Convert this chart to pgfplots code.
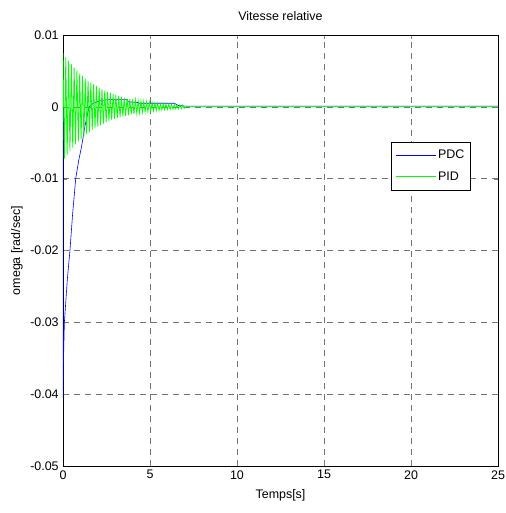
\documentclass[border=0pt]{standalone}
\usepackage{fontspec}
\setmainfont{Liberation Sans}
\usepackage{pgfplots}
\pgfplotsset{compat=1.18}
\usepackage{pgfplotstable}
\definecolor{mblue}{rgb}{0,0,1}
\definecolor{mgreen}{rgb}{0,1,0}
\pgfplotstableread{
t v
0 0
0 -0.0405
0.02 -0.0362
0.05 -0.0330
0.08 -0.0300
0.15 -0.0275
0.25 -0.0240
0.40 -0.0200
0.55 -0.0150
0.73 -0.0100
0.90 -0.0075
1.07 -0.0055
1.26 -0.0027
1.50 0.0000
1.75 0.0005
2.00 0.00074
2.30 0.00092
2.60 0.0010
3.70 0.0010
3.75 0.0007
4.30 0.0006
4.40 0.0005
6.40 0.0005
6.60 0.0002
7.00 0.0001
25 0.0001
}\pdc
\pgfplotstableread{
t v
0 0
0 0.00750
0.08 -0.00721
0.16 0.00692
0.24 -0.00665
0.32 0.00639
0.40 -0.00614
0.48 0.00590
0.56 -0.00567
0.64 0.00545
0.72 -0.00523
0.80 0.00503
0.88 -0.00483
0.96 0.00464
1.04 -0.00446
1.12 0.00428
1.20 -0.00412
1.28 0.00395
1.36 -0.00380
1.44 0.00365
1.52 -0.00351
1.60 0.00337
1.68 -0.00324
1.76 0.00311
1.84 -0.00299
1.92 0.00287
2.00 -0.00276
2.08 0.00265
2.16 -0.00255
2.24 0.00245
2.32 -0.00235
2.40 0.00226
2.48 -0.00217
2.56 0.00209
2.64 -0.00200
2.72 0.00193
2.80 -0.00185
2.88 0.00178
2.96 -0.00171
3.04 0.00164
3.12 -0.00158
3.20 0.00151
3.28 -0.00146
3.36 0.00140
3.44 -0.00134
3.52 0.00129
3.60 -0.00124
3.68 0.00119
3.76 -0.00114
3.84 0.00110
3.92 -0.00106
4.00 0.00102
4.08 -0.00097
4.16 0.00094
4.24 -0.00090
4.32 0.00086
4.40 -0.00083
4.48 0.00080
4.56 -0.00077
4.64 0.00074
4.72 -0.00071
4.80 0.00068
4.88 -0.00065
4.96 0.00063
5.04 -0.00060
5.12 0.00058
5.20 -0.00056
5.28 0.00053
5.36 -0.00051
5.44 0.00049
5.52 -0.00047
5.60 0.00046
5.68 -0.00044
5.76 0.00042
5.84 -0.00040
5.92 0.00039
6.00 -0.00037
6.08 0.00036
6.16 -0.00034
6.24 0.00033
6.32 -0.00032
6.40 0.00031
6.48 -0.00029
6.56 0.00028
6.64 -0.00027
6.72 0.00026
6.80 -0.00025
6.88 0.00024
6.96 -0.00023
7.04 0
25 0
}\pid
\begin{document}
\fontsize{12.5}{14}\selectfont
\begin{tikzpicture}
\useasboundingbox (-63bp,-47bp) rectangle (443bp,466bp);
\begin{axis}[
  at={(0,0)}, anchor=south west,
  scale only axis, width=435bp, height=431bp,
  xmin=0, xmax=25, ymin=-0.05, ymax=0.01,
  xtick={0,5,10,15,20,25},
  ytick={-0.05,-0.04,-0.03,-0.02,-0.01,0,0.01},
  yticklabels={-0.05,-0.04,-0.03,-0.02,-0.01,0,0.01},
  scaled y ticks=false,
  /pgf/number format/assume math mode=true,
  tick label style={font=\fontsize{12.5}{14}\selectfont},
  label style={font=\fontsize{12.5}{14}\selectfont},
  tick align=inside, tick pos=both,
  major tick length=4bp,
  grid=major,
  major grid style={dash pattern=on 6bp off 5bp, black!55, line width=0.5bp},
  axis line style={line width=0.6bp},
  title={Vitesse relative},
  title style={font=\fontsize{12.5}{14}\selectfont, at={(0.5,1)}, anchor=south, yshift=4bp},
  xlabel={Temps[s]},
  ylabel={omega [rad/sec]},
  xlabel style={yshift=-2bp},
  ylabel style={yshift=-1bp},
  legend style={at={(axis cs:18.85,-0.00487)}, anchor=north west, draw=black, line width=0.6bp, fill=white,
    font=\fontsize{12.5}{14}\selectfont, row sep=7bp, inner xsep=4bp, inner ysep=6bp},
  legend cell align=left,
  legend image code/.code={\draw[#1] (0bp,0bp) -- (40bp,0bp);},
]
\addplot[mblue, line width=0.6bp] table[x=t,y=v] {\pdc};
\addlegendentry{PDC}
\addplot[mgreen, line width=0.8bp] table[x=t,y=v] {\pid};
\addlegendentry{PID}
\end{axis}
\end{tikzpicture}
\end{document}
